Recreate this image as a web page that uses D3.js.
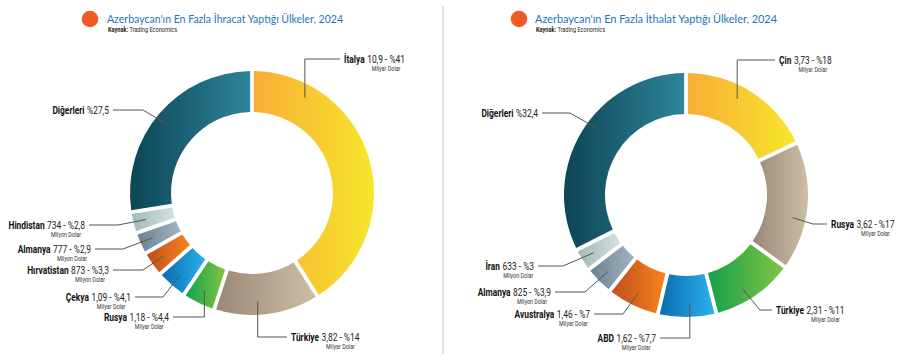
<!DOCTYPE html>
<html><head><meta charset="utf-8">
<script src="https://cdn.jsdelivr.net/npm/d3@7"></script>
<style>
body{margin:0;background:#fff;}
svg{display:block;}
.lbl{font-family:"Roboto","Liberation Sans",sans-serif;}
.ttl{font-family:"Lato","Open Sans",sans-serif;}
</style></head>
<body>
<svg id="c" width="900" height="360"></svg>
<script>
// ---------- DATA ----------
const exportTitle = "Azerbaycan'ın En Fazla İhracat Yaptığı Ülkeler, 2024";
const importTitle = "Azerbaycan'ın En Fazla İthalat Yaptığı Ülkeler, 2024";
const sourceLabel = "Kaynak:";
const sourceName = "Trading Economics";

const exportCountries = ["İtalya","Türkiye","Rusya","Çekya","Hırvatistan","Almanya","Hindistan","Diğerleri"];
const exportShares = [41,14,4.4,4.1,3.3,2.9,2.8,27.5];
const exportShareText = ["%41","%14","%4,4","%4,1","%3,3","%2,9","%2,8","%27,5"];
const exportAmounts = ["10,9","3,82","1,18","1,09","873","777","734",null];
const exportUnits = ["Milyar Dolar","Milyar Dolar","Milyar Dolar","Milyar Dolar","Milyon Dolar","Milyon Dolar","Milyon Dolar",null];

const importCountries = ["Çin","Rusya","Türkiye","ABD","Avustralya","Almanya","İran","Diğerleri"];
const importShares = [18,17,11,7.7,7,3.9,3,32.4];
const importShareText = ["%18","%17","%11","%7,7","%7","%3,9","%3","%32,4"];
const importAmounts = ["3,73","3,62","2,31","1,62","1,46","825","633",null];
const importUnits = ["Milyar Dolar","Milyar Dolar","Milyar Dolar","Milyar Dolar","Milyar Dolar","Milyon Dolar","Milyon Dolar",null];

// ---------- STYLE / LAYOUT ----------
const gradients = {
  yellow:["#f8ad37","#f6e72b"],
  beige:["#9a8876","#ccbea4"],
  green:["#14a04b","#82c444"],
  blue:["#0a6bb0","#2ab2ea"],
  orange:["#c04e1b","#f6841f"],
  slate:["#6a8091","#a4b5c1"],
  pale:["#a0bab7","#d4e1df"],
  teal:["#0d4555","#2d849b"]
};
const exportColors = ["yellow","beige","green","blue","orange","slate","pale","teal"];
const importColors = ["yellow","beige","green","blue","orange","slate","pale","teal"];

// label layout relative to donut centre
const exportLayout = [
  {kind:"v", ang:29,  ly:-134, hx:88,   side:"r"},
  {kind:"v", ang:177, ly:144,  hx:35,   side:"r"},
  {kind:"v",          ly:124,  hx:-79,  side:"l"},
  {kind:"d", ex:-89,  ey:104,  hx:-117, side:"l"},
  {kind:"d", ex:-109, ey:77,   hx:-139, side:"l"},
  {kind:"d", ex:-129, ey:56,   hx:-157, side:"l"},
  {kind:"d", ex:-134, ey:32,   hx:-163, side:"l"},
  {kind:"d", ang:309, ex:-109, ey:-83, hx:-139, side:"l"}
];
const importLayout = [
  {kind:"v", ang:28,  ly:-135, hx:89,  side:"r"},
  {kind:"d", ang:102, ex:127, ey:29,   hx:141,  side:"r"},
  {kind:"d", ang:149, ex:74,  ey:115,  hx:86,   side:"r"},
  {kind:"v", ang:178, ly:143, hx:-26,  side:"l"},
  {kind:"d", ex:-63,  ey:119, hx:-92,  side:"l"},
  {kind:"d", ex:-101, ey:97,  hx:-131, side:"l"},
  {kind:"d", ex:-123, ey:71,  hx:-148, side:"l"},
  {kind:"d", ang:307, ex:-116, ey:-82, hx:-144, side:"l"}
];

const SX = 0.8; // horizontal condensing of label text

const svg = d3.select("#c");
const defs = svg.append("defs");
Object.entries(gradients).forEach(([k,[a,b]])=>{
  const g = defs.append("linearGradient").attr("id","g-"+k).attr("x1","0").attr("x2","1").attr("y1","0").attr("y2","0");
  g.append("stop").attr("offset","0").attr("stop-color",a);
  g.append("stop").attr("offset","1").attr("stop-color",b);
});

// divider
svg.append("line").attr("x1",443).attr("x2",443).attr("y1",6).attr("y2",354)
  .attr("stroke","#c8c8c8").attr("stroke-width",1);

function header(cx, tx, title, w){
  svg.append("circle").attr("cx",cx).attr("cy",19).attr("r",8.3).attr("fill","#f15a24");
  svg.append("text").attr("class","ttl").attr("x",tx).attr("y",23)
    .attr("font-size",12).attr("fill","#1b75bc")
    .attr("textLength",w).attr("lengthAdjust","spacingAndGlyphs").text(title);
  const s = svg.append("text").attr("class","lbl")
    .attr("transform",`translate(${tx+1},31.5) scale(${SX},1)`)
    .attr("font-size",7).attr("fill","#222");
  s.append("tspan").attr("font-weight","bold").text(sourceLabel+" ");
  s.append("tspan").text(sourceName);
}
header(90,107,exportTitle,236);
header(519,535,importTitle,242);

const R = 122, r0 = 81;
const pie = d3.pie().sort(null).value(d=>d.v);
const arc = d3.arc().innerRadius(r0).outerRadius(R).padAngle(0.026);

function txt(g, x, y, size, str, opts={}){
  const t = g.append("text").attr("class","lbl")
    .attr("transform",`translate(${x},${y}) scale(${SX},1)`)
    .attr("font-size",size).attr("fill",opts.fill||"#222")
    .attr("text-anchor",opts.anchor||"start")
    .attr("font-weight",opts.bold?"bold":"normal").text(str);
  return t.node().getComputedTextLength()*SX;
}

function donut(cx, cy, countries, shares, shareText, amounts, units, colors, layout){
  const g = svg.append("g").attr("transform",`translate(${cx},${cy})`);
  const data = countries.map((c,i)=>({c, v:shares[i], i}));
  const arcs = pie(data);
  g.selectAll("path.s").data(arcs).join("path").attr("class","s")
    .attr("d",arc).attr("fill",d=>`url(#g-${colors[d.data.i]})`);

  arcs.forEach((a,i)=>{
    const L = layout[i];
    const angDeg = L.ang!==undefined ? L.ang : (a.startAngle+a.endAngle)/2*180/Math.PI;
    const ang = angDeg*Math.PI/180;
    const ar = 109;
    const ax = ar*Math.sin(ang), ay = -ar*Math.cos(ang);
    let pts;
    if(L.kind==="v"){ pts = [[ax,ay],[ax,L.ly],[L.hx,L.ly]]; }
    else { pts = [[ax,ay],[L.ex,L.ey],[L.hx,L.ey]]; }
    g.append("path").attr("d",d3.line()(pts)).attr("fill","none")
      .attr("stroke","#555").attr("stroke-width",1);
    const y = pts[2][1] + 3.5;
    const valTxt = amounts[i] ? `${amounts[i]} - ${shareText[i]}` : shareText[i];
    const fs = 10.5;
    let valCx;
    if(L.side==="r"){
      const tx = L.hx+4;
      const nw = txt(g, tx, y, fs, countries[i], {bold:true, fill:"#111"});
      const vw = txt(g, tx+nw+2.5, y, fs, valTxt);
      valCx = tx+nw+2.5+vw/2;
    } else {
      const tx = L.hx-4;
      const vw = txt(g, tx, y, fs, valTxt, {anchor:"end"});
      txt(g, tx-vw-2.5, y, fs, countries[i], {anchor:"end", bold:true, fill:"#111"});
      valCx = tx-vw/2;
    }
    if(units[i]){
      txt(g, valCx, y+8.5, 6.8, units[i], {anchor:"middle", fill:"#333"});
    }
  });
}
donut(252,193,exportCountries,exportShares,exportShareText,exportAmounts,exportUnits,exportColors,exportLayout);
donut(686,195,importCountries,importShares,importShareText,importAmounts,importUnits,importColors,importLayout);
</script>
</body></html>
